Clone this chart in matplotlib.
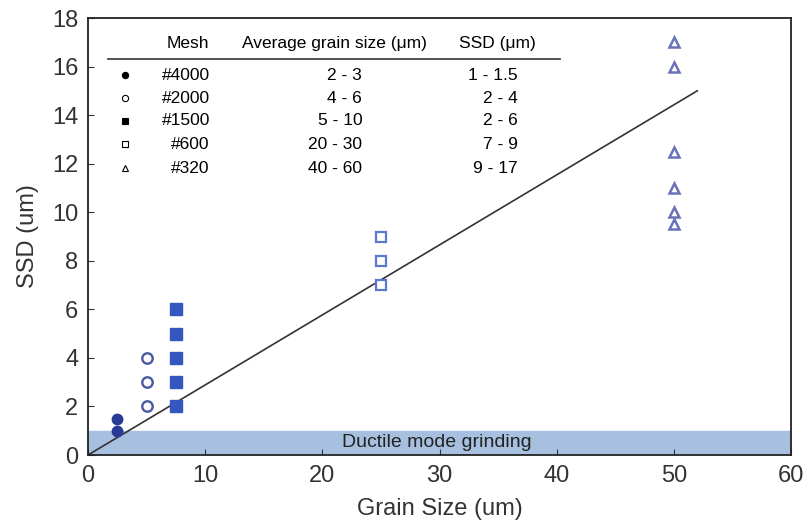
import matplotlib
matplotlib.use("Agg")
import matplotlib.pyplot as plt

plt.rcParams['font.family'] = ['Liberation Sans', 'DejaVu Sans']

# data
g4000_x = [2.5, 2.5]
g4000_y = [1.0, 1.5]
g2000_x = [5, 5, 5]
g2000_y = [2, 3, 4]
g1500_x = [7.5, 7.5, 7.5, 7.5, 7.5]
g1500_y = [2, 3, 4, 5, 6]
g600_x = [25, 25, 25]
g600_y = [7, 8, 9]
g320_x = [50, 50, 50, 50, 50, 50]
g320_y = [9.5, 10, 11, 12.5, 16, 17]
fit_x = [0, 52]
fit_y = [0, 15]
ductile_band = (0, 1)

mesh = ["#4000", "#2000", "#1500", "#600", "#320"]
avg_grain = ["2 - 3", "4 - 6", "5 - 10", "20 - 30", "40 - 60"]
ssd_range = ["1 - 1.5", "2 - 4", "2 - 6", "7 - 9", "9 - 17"]
legend_markers = ["o", "o", "s", "s", "^"]
legend_fill = [True, False, True, False, False]

fig = plt.figure(figsize=(8.11, 5.29), dpi=100)
ax = fig.add_axes([88/811, 1-455/529, (791-88)/811, (455-18)/529])

ax.axhspan(ductile_band[0], ductile_band[1], color='#a8c0e0', zorder=0)
ax.text(29.8, 0.5, "Ductile mode grinding", ha='center', va='center', fontsize=14, color='#222222')

ax.plot(fit_x, fit_y, color='#333333', lw=1.2, zorder=2)

ax.plot(g4000_x, g4000_y, 'o', color='#2a3b96', ms=7.5, zorder=3)
ax.plot(g2000_x, g2000_y, 'o', mfc='white', mec='#4a5aa0', mew=1.7, ms=7.5, zorder=3)
ax.plot(g1500_x, g1500_y, 's', color='#3558c0', ms=8, zorder=3)
ax.plot(g600_x, g600_y, 's', mfc='white', mec='#5a78cc', mew=1.6, ms=7.5, zorder=3)
ax.plot(g320_x, g320_y, '^', mfc='white', mec='#6a72b8', mew=1.8, ms=7.5, zorder=3)

ax.set_xlim(0, 60)
ax.set_ylim(0, 18)
ax.set_xticks(range(0, 61, 10))
ax.set_yticks(range(0, 19, 2))
ax.tick_params(direction='in', length=4, labelsize=17, pad=7, top=False, right=False,
               colors='#333333', labelcolor='#333333')
for s in ax.spines.values():
    s.set_color('#222222')
    s.set_linewidth(1.3)
ax.set_xlabel("Grain Size (um)", fontsize=17, color='#333333', labelpad=8)
ax.set_ylabel("SSD (um)", fontsize=17, color='#333333', labelpad=9)

# legend table (axes-data coordinates)
tf = 12.5
ax.text(10.3, 16.97, "Mesh", ha='right', va='center', fontsize=tf)
ax.text(21.0, 16.97, "Average grain size (\u03bcm)", ha='center', va='center', fontsize=tf)
ax.text(34.9, 16.97, "SSD (\u03bcm)", ha='center', va='center', fontsize=tf)
ax.plot([1.7, 40.3], [16.31, 16.31], color='#333333', lw=1.2, clip_on=False)
row_y = [15.65, 14.7, 13.76, 12.81, 11.82]
for i in range(5):
    ax.plot([3.16], [row_y[i]], legend_markers[i], ms=4.5,
            mfc='black' if legend_fill[i] else 'white', mec='black', mew=0.8)
    ax.text(10.4, row_y[i], mesh[i], ha='right', va='center', fontsize=tf)
    ax.text(23.4, row_y[i], avg_grain[i], ha='right', va='center', fontsize=tf)
    ax.text(36.7, row_y[i], ssd_range[i], ha='right', va='center', fontsize=tf)

fig.savefig("out.png", dpi=100)
